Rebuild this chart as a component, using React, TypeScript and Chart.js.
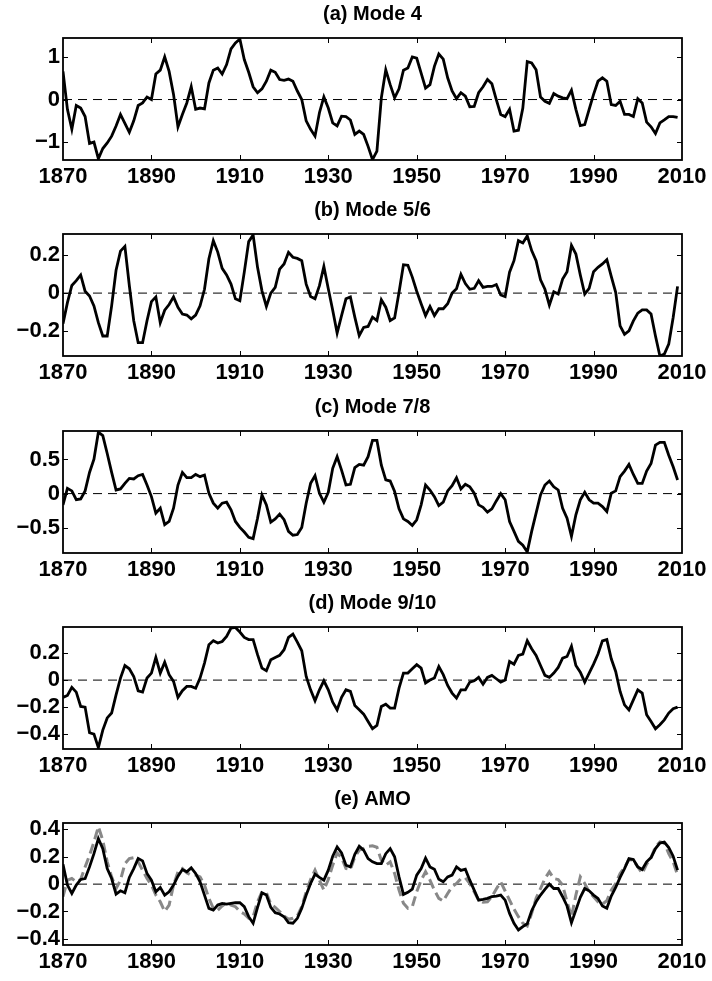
import React, { useEffect, useRef } from "react";
import { Chart, registerables } from "chart.js";

Chart.register(...registerables);

const START_YEAR = 1870;
const X_MIN = 1870;
const X_MAX = 2010;
const X_TICKS = [1870, 1890, 1910, 1930, 1950, 1970, 1990, 2010];

const TITLES = ["(a) Mode 4", "(b) Mode 5/6", "(c) Mode 7/8", "(d) Mode 9/10", "(e) AMO"];

const Y_MIN = [-1.42, -0.33, -0.87, -0.51, -0.445];
const Y_MAX = [1.445, 0.31, 0.917, 0.393, 0.447];
const Y_TICKS = [
  [-1, 0, 1],
  [-0.2, 0, 0.2],
  [-0.5, 0, 0.5],
  [-0.4, -0.2, 0, 0.2],
  [-0.4, -0.2, 0, 0.2, 0.4],
];

const modeA = [
  0.66, -0.23, -0.7, -0.14, -0.2, -0.4, -1.03, -1.0, -1.39, -1.15,
  -1.02, -0.86, -0.62, -0.35, -0.56, -0.77, -0.5, -0.14, -0.08, 0.06,
  0.0, 0.6, 0.69, 1.0, 0.66, 0.12, -0.64, -0.35, -0.08, 0.3,
  -0.23, -0.2, -0.22, 0.39, 0.69, 0.74, 0.6, 0.82, 1.19, 1.33,
  1.42, 0.94, 0.64, 0.3, 0.16, 0.25, 0.43, 0.69, 0.64, 0.47,
  0.45, 0.48, 0.43, 0.2, 0.0, -0.5, -0.7, -0.86, -0.31, 0.06,
  -0.2, -0.55, -0.62, -0.39, -0.4, -0.48, -0.82, -0.74, -0.82, -1.1,
  -1.41, -1.21, 0.04, 0.7, 0.35, 0.04, 0.25, 0.69, 0.74, 1.0,
  0.97, 0.62, 0.27, 0.35, 0.78, 1.07, 0.95, 0.51, 0.2, 0.02,
  0.16, 0.08, -0.17, -0.16, 0.16, 0.3, 0.47, 0.37, 0.0, -0.35,
  -0.4, -0.23, -0.74, -0.72, -0.2, 0.89, 0.86, 0.7, 0.06, -0.04,
  -0.09, 0.14, 0.08, 0.04, 0.02, 0.22, -0.23, -0.61, -0.59, -0.23,
  0.12, 0.43, 0.51, 0.43, -0.12, -0.14, -0.04, -0.35, -0.35, -0.4,
  0.02, -0.08, -0.53, -0.64, -0.8, -0.55, -0.48, -0.4, -0.4, -0.42,
];

const modeB = [
  -0.16, -0.05, 0.04, 0.065, 0.095, 0.01, -0.015, -0.067, -0.155, -0.225,
  -0.225, -0.067, 0.12, 0.22, 0.245, 0.04, -0.145, -0.26, -0.26, -0.145,
  -0.045, -0.02, -0.155, -0.09, -0.06, -0.02, -0.075, -0.11, -0.115, -0.135,
  -0.115, -0.067, 0.02, 0.18, 0.275, 0.215, 0.13, 0.095, 0.047, -0.03,
  -0.04, 0.11, 0.27, 0.305, 0.135, 0.012, -0.07, 0.0, 0.03, 0.126,
  0.153, 0.214, 0.188, 0.182, 0.17, 0.047, -0.018, -0.03, 0.039, 0.14,
  0.023, -0.09, -0.21, -0.118, -0.03, -0.02, -0.126, -0.223, -0.18, -0.175,
  -0.126, -0.144, -0.035, -0.074, -0.144, -0.13, 0.005, 0.149, 0.146, 0.084,
  0.01, -0.056, -0.118, -0.07, -0.118, -0.082, -0.082, -0.056, 0.0, 0.023,
  0.098, 0.05, 0.02, 0.025, 0.065, 0.03, 0.035, 0.035, 0.045, -0.01,
  -0.018, 0.11, 0.17, 0.275, 0.263, 0.3, 0.223, 0.17, 0.07, 0.02,
  -0.063, 0.007, -0.005, 0.074, 0.112, 0.25, 0.205, 0.095, -0.005, 0.025,
  0.112, 0.135, 0.153, 0.175, 0.088, 0.004, -0.172, -0.216, -0.198, -0.146,
  -0.105, -0.088, -0.088, -0.11, -0.225, -0.33, -0.32, -0.268, -0.128, 0.035,
];

const modeC = [
  -0.165, 0.078, 0.04, -0.09, -0.078, 0.04, 0.31, 0.505, 0.9, 0.85,
  0.587, 0.31, 0.053, 0.068, 0.15, 0.223, 0.214, 0.262, 0.28, 0.126,
  -0.044, -0.286, -0.214, -0.456, -0.408, -0.214, 0.126, 0.31, 0.233, 0.233,
  0.28, 0.248, 0.272, 0.005, -0.14, -0.214, -0.14, -0.126, -0.238, -0.408,
  -0.495, -0.563, -0.64, -0.66, -0.36, -0.02, -0.165, -0.417, -0.37, -0.3,
  -0.383, -0.553, -0.61, -0.6, -0.495, -0.14, 0.15, 0.262, 0.005, -0.126,
  0.02, 0.37, 0.54, 0.345, 0.126, 0.136, 0.38, 0.427, 0.417, 0.54,
  0.78, 0.78, 0.417, 0.2, 0.184, 0.03, -0.223, -0.37, -0.408, -0.466,
  -0.383, -0.165, 0.126, 0.053, -0.044, -0.175, -0.126, 0.04, 0.116, 0.233,
  0.068, 0.136, 0.1, 0.005, -0.165, -0.2, -0.272, -0.223, -0.107, 0.0,
  -0.09, -0.408, -0.553, -0.7, -0.757, -0.854, -0.553, -0.286, -0.02, 0.126,
  0.184, 0.1, 0.053, -0.214, -0.36, -0.626, -0.31, -0.09, 0.02, -0.09,
  -0.14, -0.14, -0.19, -0.262, 0.005, 0.04, 0.248, 0.33, 0.427, 0.28,
  0.15, 0.15, 0.33, 0.44, 0.71, 0.75, 0.75, 0.563, 0.393, 0.2,
];

const modeD = [
  -0.128, -0.114, -0.054, -0.089, -0.195, -0.2, -0.39, -0.4, -0.5, -0.37,
  -0.28, -0.244, -0.109, 0.015, 0.108, 0.084, 0.027, -0.079, -0.089, 0.015,
  0.052, 0.168, 0.052, 0.133, 0.04, -0.01, -0.128, -0.079, -0.047, -0.047,
  -0.06, 0.015, 0.126, 0.262, 0.291, 0.274, 0.286, 0.323, 0.385, 0.39,
  0.356, 0.316, 0.3, 0.3, 0.188, 0.089, 0.069, 0.15, 0.168, 0.183,
  0.225, 0.316, 0.34, 0.281, 0.217, 0.027, -0.072, -0.153, -0.072, -0.005,
  -0.072, -0.163, -0.22, -0.128, -0.072, -0.084, -0.188, -0.22, -0.252, -0.306,
  -0.36, -0.336, -0.195, -0.178, -0.207, -0.207, -0.06, 0.052, 0.052, 0.084,
  0.114, 0.089, -0.022, 0.0, 0.015, 0.1, 0.04, -0.04, -0.096, -0.133,
  -0.072, -0.072, -0.015, -0.005, 0.02, -0.03, 0.02, 0.035, 0.01, -0.015,
  0.0, 0.138, 0.118, 0.183, 0.193, 0.291, 0.232, 0.183, 0.108, 0.035,
  0.02, 0.052, 0.094, 0.163, 0.175, 0.25, 0.108, 0.059, -0.015, 0.052,
  0.118, 0.193, 0.291, 0.3, 0.158, 0.064, -0.084, -0.183, -0.22, -0.146,
  -0.072, -0.096, -0.257, -0.306, -0.36, -0.33, -0.294, -0.244, -0.212, -0.2,
];

const modeAmoRecon = [
  0.146, -0.007, -0.068, -0.007, 0.034, 0.041, 0.126, 0.223, 0.333, 0.26,
  0.114, 0.041, -0.073, -0.049, -0.063, 0.049, 0.114, 0.187, 0.17, 0.078,
  0.029, -0.056, -0.024, -0.08, -0.056, -0.007, 0.058, 0.107, 0.09, 0.119,
  0.078, 0.017, -0.08, -0.177, -0.19, -0.153, -0.141, -0.146, -0.141, -0.136,
  -0.136, -0.165, -0.238, -0.286, -0.17, -0.063, -0.08, -0.17, -0.209, -0.218,
  -0.238, -0.282, -0.286, -0.25, -0.177, -0.08, 0.005, 0.073, 0.049, 0.029,
  0.102, 0.204, 0.272, 0.228, 0.138, 0.126, 0.218, 0.277, 0.248, 0.187,
  0.163, 0.15, 0.15, 0.223, 0.26, 0.2, 0.053, -0.075, -0.06, -0.036,
  0.066, 0.114, 0.19, 0.126, 0.109, 0.036, 0.017, 0.053, 0.066, 0.126,
  0.1, 0.109, 0.029, -0.044, -0.117, -0.112, -0.104, -0.092, -0.087, -0.08,
  -0.117, -0.214, -0.286, -0.335, -0.31, -0.29, -0.194, -0.129, -0.08, -0.039,
  0.0, -0.032, -0.032, -0.092, -0.16, -0.282, -0.19, -0.097, -0.032, -0.049,
  -0.08, -0.104, -0.16, -0.177, -0.087, -0.024, 0.049, 0.114, 0.187, 0.18,
  0.126, 0.107, 0.163, 0.194, 0.26, 0.3, 0.308, 0.267, 0.204, 0.102,
];

const amoIndex = [
  -0.092, 0.029, 0.041, 0.017, 0.034, 0.126, 0.211, 0.308, 0.42, 0.32,
  0.163, 0.053, -0.032, 0.029, 0.15, 0.187, 0.194, 0.163, 0.102, 0.041,
  -0.007, -0.08, -0.129, -0.2, -0.153, -0.007, 0.09, 0.114, 0.083, 0.066,
  0.066, 0.053, -0.007, -0.104, -0.177, -0.19, -0.16, -0.136, -0.153, -0.165,
  -0.2, -0.218, -0.25, -0.238, -0.129, -0.056, -0.063, -0.146, -0.17, -0.2,
  -0.233, -0.257, -0.25, -0.233, -0.165, -0.056, 0.034, 0.102, 0.029, -0.044,
  0.034, 0.138, 0.228, 0.194, 0.114, 0.107, 0.199, 0.248, 0.26, 0.277,
  0.28, 0.27, 0.175, 0.138, 0.163, 0.078, -0.044, -0.14, -0.177, -0.165,
  -0.056, 0.029, 0.09, 0.029, -0.044, -0.104, -0.124, -0.068, -0.019, 0.005,
  0.041, 0.046, 0.005, -0.056, -0.117, -0.133, -0.129, -0.092, -0.036, 0.017,
  -0.05, -0.117, -0.182, -0.238, -0.286, -0.306, -0.214, -0.104, -0.032, 0.041,
  0.09, 0.041, 0.034, -0.007, -0.129, -0.238, -0.08, 0.053, 0.005, -0.056,
  -0.092, -0.129, -0.146, -0.121, -0.044, 0.005, 0.078, 0.121, 0.18, 0.175,
  0.126, 0.078, 0.146, 0.194, 0.272, 0.308, 0.3, 0.223, 0.163, 0.066,
];

const PANEL_SERIES = [modeA, modeB, modeC, modeD, modeAmoRecon];

const FONT = "'Liberation Sans', Arial, Helvetica, sans-serif";
const CANVAS_W = 712;
const CANVAS_H = 194;
const PANEL_STEP = 196.1;

function toPoints(values: number[]) {
  return values.map((v, i) => ({ x: START_YEAR + i, y: v }));
}

function fmtTick(v: number): string {
  if (Math.abs(v) < 1e-9) return "0";
  const s = String(Math.abs(Math.round(v * 100) / 100));
  return v < 0 ? "\u2212" + s : s;
}

const framePlugin = {
  id: "frameTicks",
  afterDatasetsDraw(chart: any, _args: any, opts: any) {
    const { ctx, chartArea: a, scales } = chart;
    const xs = scales.x;
    const ys = scales.y;
    const yTicks: number[] = opts.yTicks || [];
    ctx.save();
    ctx.strokeStyle = "#000";
    ctx.lineWidth = 1;
    ctx.beginPath();
    const L = 5;
    for (const t of X_TICKS) {
      if (t <= X_MIN || t >= X_MAX) continue;
      const px = Math.round(xs.getPixelForValue(t)) + 0.5;
      ctx.moveTo(px, a.top);
      ctx.lineTo(px, a.top + L);
      ctx.moveTo(px, a.bottom);
      ctx.lineTo(px, a.bottom - L);
    }
    for (const t of yTicks) {
      const py = Math.round(ys.getPixelForValue(t)) + 0.5;
      if (py <= a.top + 1 || py >= a.bottom - 1) continue;
      ctx.moveTo(a.left, py);
      ctx.lineTo(a.left + L, py);
      ctx.moveTo(a.right, py);
      ctx.lineTo(a.right - L, py);
    }
    ctx.stroke();
    ctx.lineWidth = 1.8;
    ctx.strokeRect(a.left, a.top, a.right - a.left, a.bottom - a.top);
    ctx.restore();
  },
};

function makeConfig(index: number): any {
  const datasets: any[] = [
    {
      data: toPoints(PANEL_SERIES[index]),
      borderColor: "#000",
      borderWidth: 2.8,
      pointRadius: 0,
      tension: 0,
      fill: false,
    },
  ];
  if (index === 4) {
    datasets.push({
      data: toPoints(amoIndex),
      borderColor: "#888888",
      borderWidth: 3,
      borderDash: [10, 5],
      pointRadius: 0,
      tension: 0,
      fill: false,
    });
  }
  datasets.push({
    data: [
      { x: X_MIN, y: 0 },
      { x: X_MAX, y: 0 },
    ],
    borderColor: "#000",
    borderWidth: 1,
    borderDash: [9, 6],
    pointRadius: 0,
    fill: false,
  });

  return {
    type: "line",
    data: { datasets },
    plugins: [framePlugin],
    options: {
      animation: false,
      responsive: false,
      maintainAspectRatio: false,
      layout: { padding: { left: 0, right: 30, top: 0, bottom: 0 } },
      plugins: {
        legend: { display: false },
        tooltip: { enabled: false },
        title: {
          display: true,
          text: TITLES[index],
          fullSize: false,
          color: "#000",
          font: { family: FONT, size: 20, weight: "bold", lineHeight: 1.2 },
          padding: { top: 2, bottom: 12 },
        },
        frameTicks: { yTicks: Y_TICKS[index] },
      },
      scales: {
        x: {
          type: "linear",
          min: X_MIN,
          max: X_MAX,
          grid: { display: false, drawTicks: false },
          border: { display: false },
          afterBuildTicks: (scale: any) => {
            scale.ticks = X_TICKS.map((v) => ({ value: v }));
          },
          afterFit: (scale: any) => {
            scale.height = 34;
          },
          ticks: {
            color: "#000",
            font: { family: FONT, size: 22, weight: "bold" },
            padding: 4,
            maxRotation: 0,
            autoSkip: false,
            callback: (v: any) => String(v),
          },
        },
        y: {
          type: "linear",
          min: Y_MIN[index],
          max: Y_MAX[index],
          grid: { display: false, drawTicks: false },
          border: { display: false },
          afterBuildTicks: (scale: any) => {
            scale.ticks = Y_TICKS[index].map((v) => ({ value: v }));
          },
          afterFit: (scale: any) => {
            scale.width = 63;
          },
          ticks: {
            color: "#000",
            font: { family: FONT, size: 22, weight: "bold" },
            padding: 3,
            autoSkip: false,
            callback: (v: any) => fmtTick(Number(v)),
          },
        },
      },
    },
  };
}

function Panel({ index }: { index: number }) {
  const ref = useRef<HTMLCanvasElement>(null);
  useEffect(() => {
    if (!ref.current) return;
    const chart = new Chart(ref.current, makeConfig(index));
    return () => chart.destroy();
  }, [index]);
  const top = Math.round(0.3 + PANEL_STEP * index);
  return (
    <canvas
      ref={ref}
      width={CANVAS_W}
      height={CANVAS_H}
      style={{ position: "absolute", left: 0, top, width: CANVAS_W, height: CANVAS_H }}
    />
  );
}

export default function App() {
  return (
    <div
      style={{
        position: "absolute",
        left: 0,
        top: 0,
        width: 712,
        height: 981,
        background: "#fff",
        overflow: "hidden",
      }}
    >
      {TITLES.map((_, i) => (
        <Panel key={i} index={i} />
      ))}
    </div>
  );
}
